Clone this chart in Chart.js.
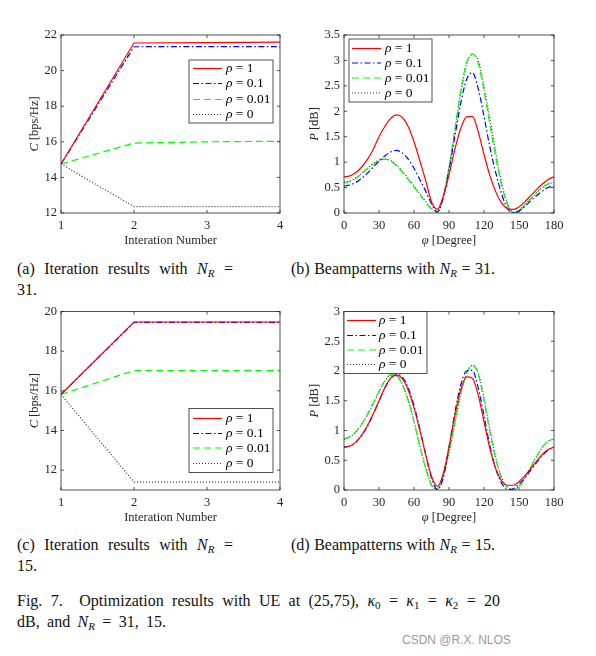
<!DOCTYPE html>
<html>
<head>
<meta charset="utf-8">
<script src="https://cdn.jsdelivr.net/npm/chart.js@4.4.1/dist/chart.umd.min.js"></script>
<style>
  body { margin: 0; background: #fff; width: 596px; height: 656px; position: relative; overflow: hidden; font-family: "Liberation Serif", serif; color: #111; }
  .panel { position: absolute; }
  .cap { position: absolute; font-size: 16px; line-height: 20px; white-space: nowrap; }
  .cap sub { font-size: 11px; line-height: 0; vertical-align: -3px; }
  .wm { position: absolute; left: 402px; top: 633px; font: 12px "Liberation Sans", sans-serif; color: #9a9a9a; white-space: nowrap; }
</style>
</head>
<body>
<div class="panel" style="left:0;top:20px;width:295px;height:235px"><canvas id="chartA"></canvas></div>
<div class="panel" style="left:295px;top:20px;width:280px;height:235px"><canvas id="chartB"></canvas></div>
<div class="panel" style="left:0;top:300px;width:295px;height:230px"><canvas id="chartC"></canvas></div>
<div class="panel" style="left:295px;top:300px;width:280px;height:230px"><canvas id="chartD"></canvas></div>

<div class="cap fit" data-w="216" style="left:17px;top:259px">(a) Iteration results with <i>N<sub>R</sub></i> =</div>
<div class="cap" style="left:17px;top:280px">31.</div>
<div class="cap fit" data-w="204" style="left:291px;top:259px">(b) Beampatterns with <i>N<sub>R</sub></i> = 31.</div>
<div class="cap fit" data-w="216" style="left:17px;top:535px">(c) Iteration results with <i>N<sub>R</sub></i> =</div>
<div class="cap" style="left:17px;top:556px">15.</div>
<div class="cap fit" data-w="204" style="left:291px;top:535px">(d) Beampatterns with <i>N<sub>R</sub></i> = 15.</div>
<div class="cap fit" data-w="483" style="left:17px;top:591px">Fig. 7.&nbsp; Optimization results with UE at (25,75), <i>κ</i><sub>0</sub> = <i>κ</i><sub>1</sub> = <i>κ</i><sub>2</sub> = 20</div>
<div class="cap fit" data-w="149" style="left:17px;top:612px">dB, and <i>N<sub>R</sub></i> = 31, 15.</div>
<div class="wm">CSDN @R.X. NLOS</div>

<script>
// ---- data ----
var rhoLabels = ['1', '0.1', '0.01', '0'];
var iterations = [1, 2, 3, 4];
var angles = [0, 5, 10, 15, 20, 25, 30, 35, 40, 45, 50, 55, 60, 65, 70, 75, 80, 85, 90,
              95, 100, 105, 110, 115, 120, 125, 130, 135, 140, 145, 150, 155, 160, 165, 170, 175, 180];

var xTicksIter = [1, 2, 3, 4];
var yTicksA = [12, 14, 16, 18, 20, 22];
var yTicksC = [12, 14, 16, 18, 20];
var xTicksDeg = [0, 30, 60, 90, 120, 150, 180];
var yTicksB = [0, 0.5, 1, 1.5, 2, 2.5, 3, 3.5];
var yTicksD = [0, 0.5, 1, 1.5, 2, 2.5, 3];

// (a) capacity, N_R = 31
var capA_rho1   = [14.75, 21.55, 21.57, 21.6];
var capA_rho01  = [14.75, 21.34, 21.35, 21.35];
var capA_rho001 = [14.75, 15.93, 16.0, 16.03];
var capA_rho0   = [14.75, 12.36, 12.36, 12.36];

// (c) capacity, N_R = 15
var capC_rho1   = [15.82, 19.47, 19.47, 19.47];
var capC_rho01  = [15.82, 19.45, 19.45, 19.45];
var capC_rho001 = [15.82, 17.02, 17.02, 17.02];
var capC_rho0   = [15.82, 11.4, 11.4, 11.4];

// (b) beampattern, N_R = 31
var beamB_rho1   = [0.71, 0.73, 0.79, 0.9, 1.05, 1.25, 1.5, 1.7, 1.86, 1.93, 1.88, 1.7, 1.4, 1.03, 0.64, 0.22, 0.07, 0.32, 0.75,
                    1.25, 1.66, 1.89, 1.9, 1.6, 1.15, 0.74, 0.42, 0.2, 0.09, 0.07, 0.12, 0.22, 0.34, 0.46, 0.57, 0.66, 0.71];
var beamB_rho01  = [0.53, 0.55, 0.6, 0.68, 0.78, 0.9, 1.02, 1.12, 1.2, 1.23, 1.18, 1.06, 0.88, 0.66, 0.43, 0.18, 0.02, 0.3, 0.85,
                    1.5, 2.15, 2.62, 2.76, 2.45, 1.9, 1.3, 0.8, 0.38, 0.09, 0.01, 0.04, 0.13, 0.24, 0.34, 0.43, 0.5, 0.53];
var beamB_rho001 = [0.6, 0.62, 0.68, 0.77, 0.87, 0.96, 1.03, 1.06, 1.02, 0.93, 0.8, 0.66, 0.51, 0.36, 0.21, 0.08, 0.02, 0.32, 0.9,
                    1.65, 2.4, 2.95, 3.13, 2.95, 2.4, 1.75, 1.1, 0.55, 0.17, 0.0, 0.05, 0.16, 0.28, 0.4, 0.5, 0.57, 0.6];
var beamB_rho0   = [0.61, 0.63, 0.69, 0.78, 0.88, 0.97, 1.04, 1.06, 1.03, 0.95, 0.82, 0.68, 0.53, 0.38, 0.23, 0.09, 0.02, 0.3, 0.88,
                    1.6, 2.35, 2.92, 3.12, 3.0, 2.5, 1.85, 1.2, 0.6, 0.2, 0.02, 0.05, 0.16, 0.28, 0.4, 0.5, 0.57, 0.6];

// (d) beampattern, N_R = 15
var beamD_rho1   = [0.72, 0.74, 0.8, 0.92, 1.08, 1.28, 1.5, 1.72, 1.88, 1.93, 1.87, 1.68, 1.38, 1.0, 0.6, 0.23, 0.06, 0.27, 0.72,
                    1.25, 1.68, 1.9, 1.88, 1.6, 1.15, 0.7, 0.36, 0.16, 0.08, 0.08, 0.14, 0.24, 0.36, 0.48, 0.6, 0.68, 0.72];
var beamD_rho01  = [0.72, 0.74, 0.8, 0.91, 1.07, 1.27, 1.49, 1.71, 1.88, 1.94, 1.9, 1.72, 1.42, 1.03, 0.6, 0.2, 0.01, 0.2, 0.72,
                    1.3, 1.76, 2.0, 2.01, 1.72, 1.25, 0.75, 0.36, 0.12, 0.01, 0.02, 0.1, 0.2, 0.33, 0.46, 0.58, 0.67, 0.72];
var beamD_rho001 = [0.86, 0.9, 0.98, 1.1, 1.27, 1.46, 1.66, 1.84, 1.94, 1.92, 1.77, 1.5, 1.14, 0.73, 0.36, 0.08, 0.02, 0.25, 0.65,
                    1.15, 1.62, 1.96, 2.1, 1.95, 1.5, 0.98, 0.52, 0.2, 0.04, 0.0, 0.06, 0.2, 0.38, 0.56, 0.72, 0.82, 0.86];
var beamD_rho0   = [0.85, 0.89, 0.97, 1.1, 1.26, 1.45, 1.65, 1.83, 1.93, 1.92, 1.78, 1.52, 1.16, 0.75, 0.38, 0.09, 0.01, 0.22, 0.62,
                    1.12, 1.6, 1.95, 2.09, 1.97, 1.55, 1.02, 0.55, 0.22, 0.05, 0.0, 0.06, 0.2, 0.38, 0.56, 0.72, 0.82, 0.86];

// ---- styling ----
var lineStyles = [
  { color: '#ff0000', dash: [] },
  { color: '#0000ff', dash: [6, 2.5, 1.5, 2.5] },
  { color: '#00ff00', dash: [7, 4] },
  { color: '#333333', dash: [1, 2] }
];
var axisColor = '#262626';
Chart.defaults.font.family = '"Liberation Serif", serif';

function drawParts(ctx, parts, size) {
  var total = 0;
  parts.forEach(function (p) {
    ctx.font = (p.it ? 'italic ' : '') + size + 'px "Liberation Serif", serif';
    p.w = ctx.measureText(p.t).width;
    total += p.w;
  });
  var x = -total / 2;
  parts.forEach(function (p) {
    ctx.font = (p.it ? 'italic ' : '') + size + 'px "Liberation Serif", serif';
    ctx.fillText(p.t, x, 0);
    x += p.w;
  });
}

// MATLAB-like box, inward ticks, axis titles and the in-plot legend
var matlabAxes = {
  id: 'matlabAxes',
  afterDatasetsDraw: function (chart, args, o) {
    var ctx = chart.ctx, a = chart.chartArea, sx = chart.scales.x, sy = chart.scales.y;
    ctx.save();
    ctx.strokeStyle = axisColor;
    ctx.lineWidth = 0.8;
    ctx.setLineDash([]);
    ctx.strokeRect(a.left, a.top, a.right - a.left, a.bottom - a.top);
    ctx.beginPath();
    sx.ticks.forEach(function (t) {
      var p = sx.getPixelForValue(t.value);
      ctx.moveTo(p, a.bottom); ctx.lineTo(p, a.bottom - 3);
      ctx.moveTo(p, a.top); ctx.lineTo(p, a.top + 3);
    });
    sy.ticks.forEach(function (t) {
      var p = sy.getPixelForValue(t.value);
      ctx.moveTo(a.left, p); ctx.lineTo(a.left + 3, p);
      ctx.moveTo(a.right, p); ctx.lineTo(a.right - 3, p);
    });
    ctx.stroke();

    // axis titles
    ctx.fillStyle = axisColor;
    ctx.textBaseline = 'middle';
    ctx.textAlign = 'left';
    ctx.save();
    ctx.translate((a.left + a.right) / 2, a.bottom + 28);
    drawParts(ctx, o.xTitle, 12.5);
    ctx.restore();
    ctx.save();
    ctx.translate(a.left - o.yTitleOff, (a.top + a.bottom) / 2);
    ctx.rotate(-Math.PI / 2);
    drawParts(ctx, o.yTitle, 12.5);
    ctx.restore();

    // legend
    var L = o.legend, bx = a.left + L.x, by = a.top + L.y;
    ctx.fillStyle = '#fff';
    ctx.fillRect(bx, by, L.w, L.h);
    ctx.strokeStyle = axisColor;
    ctx.lineWidth = 0.8;
    ctx.strokeRect(bx, by, L.w, L.h);
    chart.data.datasets.forEach(function (ds, i) {
      var ry = by + L.rows[i];
      ctx.beginPath();
      ctx.strokeStyle = ds.borderColor;
      ctx.lineWidth = ds.borderWidth;
      ctx.setLineDash(ds.borderDash);
      ctx.moveTo(bx + L.lineFrom, ry);
      ctx.lineTo(bx + L.lineTo, ry);
      ctx.stroke();
      ctx.setLineDash([]);
      ctx.fillStyle = '#000';
      ctx.save();
      ctx.translate(0, ry);
      var tx = bx + L.textX;
      ctx.font = 'italic 13.5px "Liberation Serif", serif';
      ctx.fillText('ρ', tx, 0);
      var w = ctx.measureText('ρ').width;
      ctx.font = '13.5px "Liberation Serif", serif';
      ctx.fillText(' = ' + rhoLabels[i], tx + w, 0);
      ctx.restore();
    });
    ctx.restore();
  }
};

function makeChart(id, xs, series, cfg) {
  var datasets = series.map(function (ys, i) {
    return {
      label: 'ρ = ' + rhoLabels[i],
      data: xs.map(function (x, j) { return { x: x, y: ys[j] }; }),
      borderColor: lineStyles[i].color,
      borderDash: lineStyles[i].dash,
      borderWidth: 1.2,
      pointRadius: 0,
      fill: false,
      tension: 0,
      cubicInterpolationMode: cfg.smooth ? 'monotone' : 'default'
    };
  });
  // draw the black dotted line first, red last like the original
  datasets.forEach(function (d, i) { d.order = i; });

  var tickFont = { size: 12.5 };
  return new Chart(document.getElementById(id), {
    type: 'line',
    data: { datasets: datasets },
    options: {
      responsive: true,
      maintainAspectRatio: false,
      animation: false,
      events: [],
      layout: { padding: cfg.pad },
      plugins: {
        legend: { display: false },
        tooltip: { enabled: false },
        matlabAxes: { xTitle: cfg.xTitle, yTitle: cfg.yTitle, yTitleOff: cfg.yTitleOff, legend: cfg.legend }
      },
      scales: {
        x: {
          type: 'linear', min: cfg.xMin, max: cfg.xMax,
          afterBuildTicks: function (s) { s.ticks = cfg.xTicks.map(function (v) { return { value: v }; }); },
          afterFit: function (s) { s.height = cfg.xh; },
          grid: { display: false, drawTicks: false },
          border: { display: false },
          ticks: { padding: 5, color: axisColor, font: tickFont, autoSkip: false, maxRotation: 0,
                   callback: function (v) { return String(v); } }
        },
        y: {
          type: 'linear', min: cfg.yMin, max: cfg.yMax,
          afterBuildTicks: function (s) { s.ticks = cfg.yTicks.map(function (v) { return { value: v }; }); },
          afterFit: function (s) { s.width = cfg.yw; },
          grid: { display: false, drawTicks: false },
          border: { display: false },
          ticks: { padding: 4, color: axisColor, font: tickFont, autoSkip: false,
                   callback: function (v) { return String(v); } }
        }
      }
    },
    plugins: [matlabAxes]
  });
}

var iterTitle = [{ t: 'Interation Number' }];
var capTitle = [{ t: 'C', it: true }, { t: ' [bps/Hz]' }];
var degTitle = [{ t: 'φ', it: true }, { t: ' [Degree]' }];
var powTitle = [{ t: 'P', it: true }, { t: ' [dB]' }];

makeChart('chartA', iterations, [capA_rho1, capA_rho01, capA_rho001, capA_rho0], {
  pad: { top: 15, right: 15, left: 0, bottom: 0 }, xh: 42, yw: 61,
  xMin: 1, xMax: 4, yMin: 12, yMax: 22, xTicks: xTicksIter, yTicks: yTicksA,
  xTitle: iterTitle, yTitle: capTitle, yTitleOff: 26,
  legend: { x: 128, y: 25, w: 84, h: 63, rows: [8.5, 23.5, 39.5, 54.5], lineFrom: 4, lineTo: 33, textX: 37 }
});

makeChart('chartB', angles, [beamB_rho1, beamB_rho01, beamB_rho001, beamB_rho0], {
  smooth: true,
  pad: { top: 15, right: 21, left: 0, bottom: 0 }, xh: 42, yw: 49,
  xMin: 0, xMax: 180, yMin: 0, yMax: 3.5, xTicks: xTicksDeg, yTicks: yTicksB,
  xTitle: degTitle, yTitle: powTitle, yTitleOff: 29,
  legend: { x: 5, y: 4, w: 83, h: 63, rows: [9.5, 24, 39, 54], lineFrom: 3, lineTo: 32, textX: 36 }
});

makeChart('chartC', iterations, [capC_rho1, capC_rho01, capC_rho001, capC_rho0], {
  pad: { top: 11, right: 15, left: 0, bottom: 0 }, xh: 40, yw: 61,
  xMin: 1, xMax: 4, yMin: 11, yMax: 20, xTicks: xTicksIter, yTicks: yTicksC,
  xTitle: iterTitle, yTitle: capTitle, yTitleOff: 26,
  legend: { x: 128, y: 97, w: 84, h: 64, rows: [10, 25, 39.5, 55], lineFrom: 4, lineTo: 33, textX: 37 }
});

makeChart('chartD', angles, [beamD_rho1, beamD_rho01, beamD_rho001, beamD_rho0], {
  smooth: true,
  pad: { top: 11, right: 21, left: 0, bottom: 0 }, xh: 40, yw: 49,
  xMin: 0, xMax: 180, yMin: 0, yMax: 3, xTicks: xTicksDeg, yTicks: yTicksD,
  xTitle: degTitle, yTitle: powTitle, yTitleOff: 29,
  legend: { x: 0, y: 0, w: 83, h: 62, rows: [9, 24, 38.5, 53], lineFrom: 3, lineTo: 32, textX: 35 }
});

// stretch the caption lines to the widths of the justified originals
document.querySelectorAll('.fit').forEach(function (el) {
  var target = +el.dataset.w;
  var spaces = (el.textContent.match(/[ \u00a0]/g) || []).length;
  var w = el.getBoundingClientRect().width;
  if (spaces) el.style.wordSpacing = ((target - w) / spaces) + 'px';
});
</script>
</body>
</html>
